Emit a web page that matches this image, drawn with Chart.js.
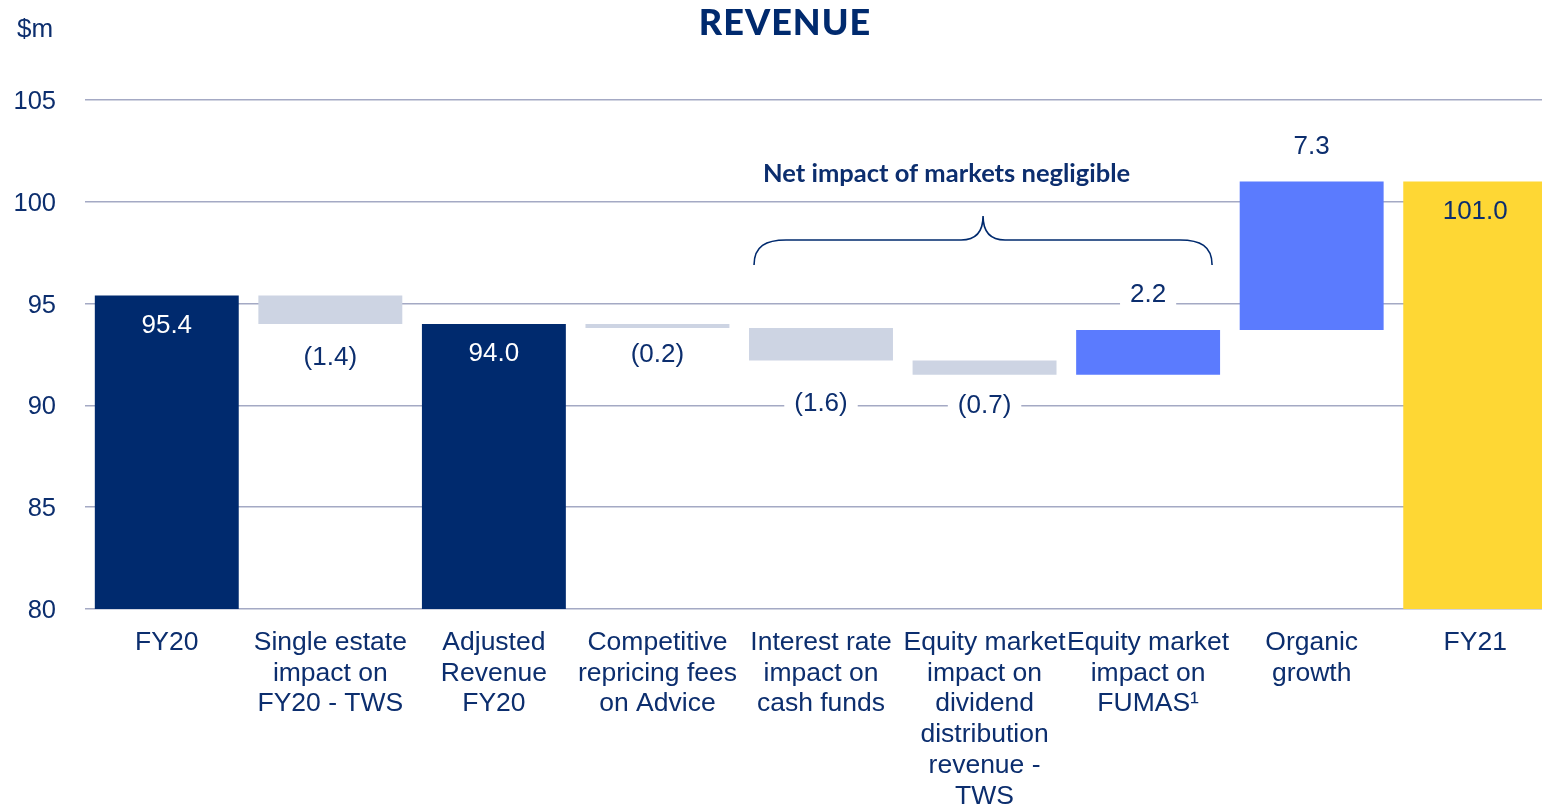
<!DOCTYPE html>
<html><head><meta charset="utf-8">
<script src="https://cdn.jsdelivr.net/npm/chart.js@4"></script>
<style>html,body{margin:0;padding:0;background:#fff;overflow:hidden;width:1542px;height:806px}#wrap{width:1557px;height:806px;position:relative}</style>
</head><body><div id="wrap"><canvas id="c"></canvas></div>
<script>
// ---- data ----
const categories = [
  ['FY20'],
  ['Single estate', 'impact on', 'FY20 - TWS'],
  ['Adjusted', 'Revenue', 'FY20'],
  ['Competitive', 'repricing fees', 'on Advice'],
  ['Interest rate', 'impact on', 'cash funds'],
  ['Equity market', 'impact on', 'dividend', 'distribution', 'revenue -', 'TWS'],
  ['Equity market', 'impact on', 'FUMAS¹'],
  ['Organic', 'growth'],
  ['FY21']
];
const changes = [95.4, -1.4, 94.0, -0.2, -1.6, -0.7, 2.2, 7.3, 101.0];
const kinds = ['total', 'delta', 'total', 'delta', 'delta', 'delta', 'delta', 'delta', 'total'];
const valueLabels = ['95.4', '(1.4)', '94.0', '(0.2)', '(1.6)', '(0.7)', '2.2', '7.3', '101.0'];
const yTicks = [80, 85, 90, 95, 100, 105];
const titleText = 'REVENUE';
const unitText = '$m';
const bracketText = 'Net impact of markets negligible';
const bracketFrom = 4, bracketTo = 6;

// ---- styles ----
const NAVY = '#002A6E', GRAY = '#CDD4E3', BLUE = '#5B7BFE', YELLOW = '#FED734', TEXT = '#0C2E6E', GRID = '#A4A9C4';
const Y_MIN = yTicks[0], Y_MAX = yTicks[yTicks.length - 1];
// label offsets below negative bars (layout tweak, px)
const belowOffsets = { 1: 34, 3: 27, 4: 43, 5: 31 };

// build floating ranges from the values
let running = 0;
const ranges = [], colors = [];
changes.forEach((v, i) => {
  if (kinds[i] === 'total') {
    ranges.push([Y_MIN, v]); running = v;
    colors.push(i === changes.length - 1 ? YELLOW : NAVY);
  } else {
    const s = running, e = +(running + v).toFixed(2);
    ranges.push([Math.min(s, e), Math.max(s, e)]); running = e;
    colors.push(v < 0 ? GRAY : BLUE);
  }
});

const labelPlugin = {
  id: 'labels',
  afterDatasetsDraw(chart) {
    const ctx = chart.ctx;
    const meta = chart.getDatasetMeta(0);
    ctx.save();
    ctx.font = '26px "Liberation Sans", Arial, sans-serif';
    ctx.textAlign = 'center';
    ctx.textBaseline = 'middle';
    meta.data.forEach((bar, i) => {
      const top = Math.min(bar.y, bar.base), bottom = Math.max(bar.y, bar.base);
      const txt = valueLabels[i];
      let y, fill = TEXT, boxed = false;
      if (kinds[i] === 'total') {
        y = top + 30;
        fill = colors[i] === NAVY ? '#FFFFFF' : TEXT;
      } else if (changes[i] < 0) {
        y = bottom + (belowOffsets[i] || 31); boxed = true;
      } else {
        y = top - 35; boxed = true;
      }
      if (boxed) {
        const w = ctx.measureText(txt).width + 20;
        ctx.fillStyle = '#FFFFFF';
        ctx.fillRect(bar.x - w / 2, y - 13, w, 26);
      }
      ctx.fillStyle = fill;
      ctx.fillText(txt, bar.x, y);
    });

    // bracket
    const b1 = meta.data[bracketFrom], b2 = meta.data[bracketTo];
    const L = b1.x - b1.width / 2 + 5, R = b2.x + b2.width / 2 - 8;
    const M = (L + R) / 2;
    const yH = 240, yEnd = 265, yTip = 216;
    ctx.strokeStyle = NAVY; ctx.lineWidth = 1.6;
    ctx.beginPath();
    ctx.moveTo(L, yEnd);
    ctx.bezierCurveTo(L, yH + 6, L + 12, yH, L + 32, yH);
    ctx.lineTo(M - 22, yH);
    ctx.bezierCurveTo(M - 8, yH, M, yH - 8, M, yTip);
    ctx.bezierCurveTo(M, yH - 8, M + 8, yH, M + 22, yH);
    ctx.lineTo(R - 32, yH);
    ctx.bezierCurveTo(R - 12, yH, R, yH + 6, R, yEnd);
    ctx.stroke();

    ctx.fillStyle = TEXT;
    ctx.font = 'bold 25.5px Lato, "Open Sans", sans-serif';
    ctx.textAlign = 'left';
    ctx.fillText(bracketText, L + 9, 174);

    // title and unit
    ctx.font = '900 36px Lato, "Open Sans", sans-serif';
    ctx.letterSpacing = '1px';
    ctx.textAlign = 'center';
    ctx.fillStyle = NAVY;
    ctx.fillText(titleText, 785, 23);
    ctx.letterSpacing = '0px';
    ctx.font = '26px "Liberation Sans", Arial, sans-serif';
    ctx.textAlign = 'left';
    ctx.fillStyle = TEXT;
    ctx.fillText(unitText, 17, 30);
    ctx.restore();
  }
};

new Chart(document.getElementById('c'), {
  type: 'bar',
  data: {
    labels: categories,
    datasets: [{
      data: ranges,
      backgroundColor: colors,
      borderWidth: 0,
      borderSkipped: false,
      barPercentage: 0.88,
      categoryPercentage: 1.0
    }]
  },
  options: {
    responsive: true,
    maintainAspectRatio: false,
    animation: false,
    layout: { padding: { top: 100, left: 0, right: 0, bottom: 0 } },
    plugins: { legend: { display: false }, tooltip: { enabled: false }, title: { display: false } },
    scales: {
      x: {
        grid: { display: false, drawTicks: false },
        border: { display: false },
        ticks: {
          color: TEXT, padding: 18, maxRotation: 0, autoSkip: false,
          font: { family: '"Liberation Sans", Arial, sans-serif', size: 26.5, lineHeight: 1.162 }
        },
        afterFit(s) { s.height = 197; }
      },
      y: {
        min: Y_MIN, max: Y_MAX,
        grid: { color: GRID, lineWidth: 1.5, drawTicks: false },
        border: { display: false },
        afterBuildTicks(s) { s.ticks = yTicks.map(v => ({ value: v })); },
        ticks: {
          color: TEXT, padding: 29, labelOffset: 2,
          font: { family: '"Liberation Sans", Arial, sans-serif', size: 25.5 }
        },
        afterFit(s) { s.width = 85; }
      }
    }
  },
  plugins: [labelPlugin]
});
</script>
</body></html>
